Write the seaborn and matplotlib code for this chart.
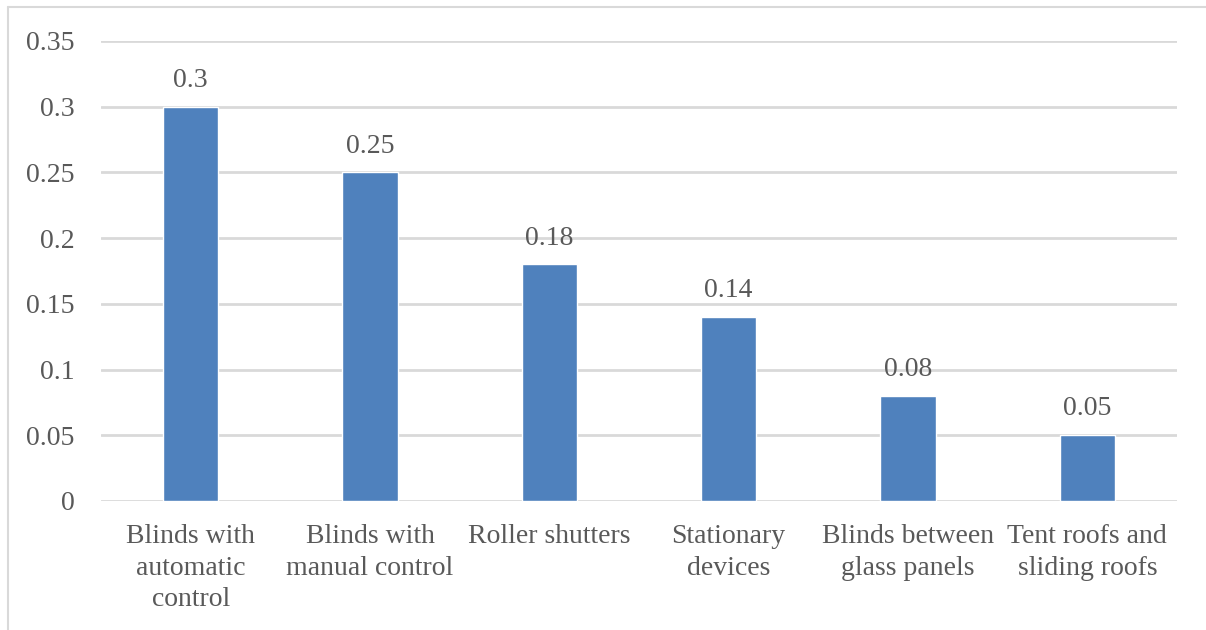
import matplotlib
matplotlib.use("Agg")
import matplotlib.pyplot as plt
from matplotlib.lines import Line2D
import seaborn as sns
import pandas as pd

categories = [
    "Blinds with\nautomatic\ncontrol",
    "Blinds with\nmanual control",
    "Roller shutters",
    "Stationary\ndevices",
    "Blinds between\nglass panels",
    "Tent roofs and\nsliding roofs",
]
values = [0.30, 0.25, 0.18, 0.14, 0.08, 0.05]
value_labels = ["0.3", "0.25", "0.18", "0.14", "0.08", "0.05"]
yticks = [0, 0.05, 0.1, 0.15, 0.2, 0.25, 0.3, 0.35]
ytick_labels = ["0", "0.05", "0.1", "0.15", "0.2", "0.25", "0.3", "0.35"]

sns.set_theme(style="white")
plt.rcParams["font.family"] = ["Liberation Serif", "DejaVu Serif"]

W, H = 1206, 630
fig = plt.figure(figsize=(W / 100, H / 100), dpi=100)
ax = fig.add_axes([101 / W, 1 - 501 / H, (1177 - 101) / W, (501 - 41) / H])

df = pd.DataFrame({"category": categories, "value": values})
sns.barplot(data=df, x="category", y="value", color="#4F81BD", saturation=1,
            width=0.31, ax=ax, zorder=3)

text_color = "#595959"
ax.set_xlim(-0.5, len(categories) - 0.5)
ax.set_ylim(0, 0.35)
ax.set_yticks(yticks)
ax.set_yticklabels(ytick_labels)
ax.set_xlabel("")
ax.set_ylabel("")
ax.yaxis.grid(True, color="#D9D9D9", linewidth=2, zorder=0)
ax.set_axisbelow(True)
for s in ax.spines.values():
    s.set_visible(False)
ax.tick_params(axis="y", length=0, pad=19, labelsize=20, labelcolor=text_color)
ax.tick_params(axis="x", length=0, pad=16.5, labelsize=20, labelcolor=text_color)
for lab in ax.get_xticklabels():
    lab.set_linespacing(1.35)

for i, (v, t) in enumerate(zip(values, value_labels)):
    ax.annotate(t, (i, v), xytext=(0, 10), textcoords="offset points",
                ha="center", va="bottom", fontsize=20, color=text_color)

# outer frame (top and left edges)
fig.add_artist(Line2D([8 / W, 1.0], [1 - 7 / H, 1 - 7 / H], transform=fig.transFigure,
                      color="#D9D9D9", linewidth=1.5))
fig.add_artist(Line2D([8 / W, 8 / W], [0, 1 - 7 / H], transform=fig.transFigure,
                      color="#D9D9D9", linewidth=1.5))

fig.savefig("out.png", dpi=100, facecolor="white")
